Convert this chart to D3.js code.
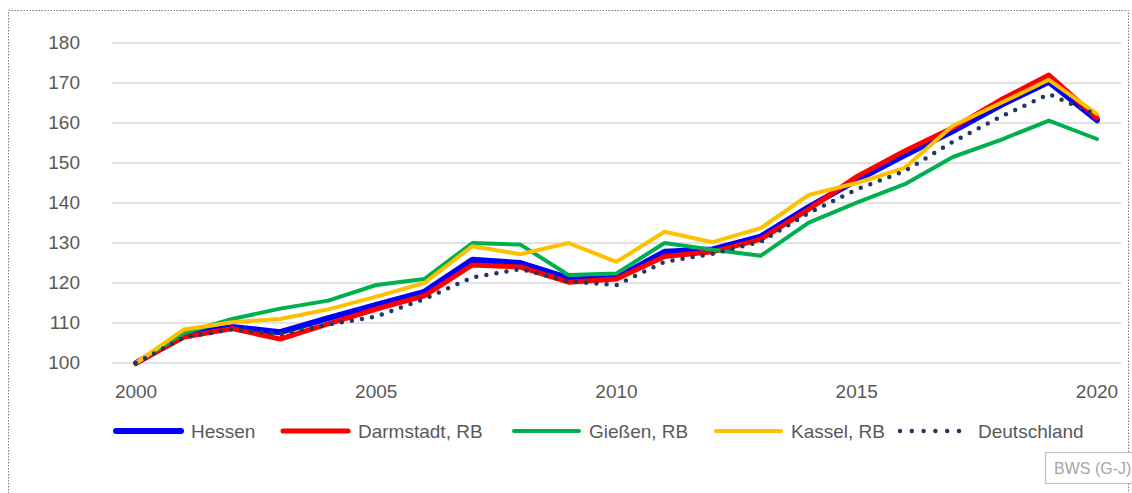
<!DOCTYPE html>
<html>
<head>
<meta charset="utf-8">
<script src="https://cdn.jsdelivr.net/npm/d3@7"></script>
<style>
  body { margin: 0; background: #fff; }
  svg { display: block; font-family: "Liberation Sans", Arial, sans-serif; }
</style>
</head>
<body>
<div id="chart"></div>
<script>
const years = d3.range(2000, 2021);
const yTicks = [100, 110, 120, 130, 140, 150, 160, 170, 180];
const xTickYears = [2000, 2005, 2010, 2015, 2020];

const hessen     = [100, 107, 109, 107.7, 111.2, 114.5, 117.8, 125.8, 125, 121.2, 121.3, 127.8, 128.4, 131.6, 139, 145.7, 152, 158, 164.5, 170.3, 160.7];
const darmstadt  = [100, 106.5, 108.6, 106, 109.8, 113.5, 116.8, 124.5, 124, 120.2, 121, 126.6, 127.8, 130.9, 138.4, 146.6, 153, 158.8, 165.8, 172, 161.3];
const giessen    = [100, 107.5, 111, 113.6, 115.6, 119.5, 121, 130, 129.6, 122, 122.4, 130, 128.3, 126.8, 135.1, 140.1, 144.7, 151.5, 155.8, 160.6, 156];
const kassel     = [100, 108.4, 110.2, 111, 113.4, 116.6, 120, 129.2, 127.2, 130, 125.3, 132.8, 130.2, 133.7, 142, 145, 148.8, 159.3, 165, 170.8, 162.3];
const deutschland= [100, 106.4, 108.4, 107.2, 109.6, 111.6, 116, 121.4, 123.5, 120.4, 119.5, 125.3, 127.3, 130.3, 137.5, 143.4, 148, 155.3, 161.6, 167.2, 162];

const seriesNames = ["Hessen", "Darmstadt, RB", "Gießen, RB", "Kassel, RB", "Deutschland"];
const seriesValues = [hessen, darmstadt, giessen, kassel, deutschland];
const seriesColors = ["#0000ff", "#ff0000", "#00b050", "#ffc000", "#1f3864"];
const seriesWidths = [6, 5, 4, 4, 4.5];

const W = 1132, H = 493;
const plotLeft = 112, plotRight = 1121, plotTop = 43, plotBottom = 363;

const svg = d3.select("#chart").append("svg").attr("width", W).attr("height", H);

// chart border (dotted)
svg.append("rect")
  .attr("x", 8.5).attr("y", 10.5).attr("width", 1120).attr("height", 500)
  .attr("fill", "none").attr("stroke", "#7f7f7f").attr("stroke-width", 1)
  .attr("stroke-dasharray", "1.5,1.5");

const x = d3.scaleBand().domain(years).range([plotLeft, plotRight]);
const y = d3.scaleLinear().domain([100, 180]).range([plotBottom, plotTop]);

// gridlines
svg.append("g").selectAll("line").data(yTicks).join("line")
  .attr("x1", plotLeft).attr("x2", plotRight)
  .attr("y1", d => y(d)).attr("y2", d => y(d))
  .attr("stroke", "#d9d9d9").attr("stroke-width", 1.5);

// y axis labels
const yAxis = d3.axisLeft(y).tickValues(yTicks).tickSize(0).tickPadding(0);
svg.append("g").attr("transform", `translate(80,-1)`).call(yAxis)
  .call(g => g.select(".domain").remove())
  .selectAll("text").attr("fill", "#595959").style("font-size", "19px").attr("dy", "0.35em");

// x axis labels
const xAxis = d3.axisBottom(x).tickValues(xTickYears).tickSize(0).tickPadding(0);
svg.append("g").attr("transform", `translate(0,${plotBottom + 21})`).call(xAxis)
  .call(g => g.select(".domain").remove())
  .selectAll("text").attr("fill", "#595959").style("font-size", "19px").attr("dy", "0.71em");

const line = d3.line()
  .x((d, i) => x(years[i]) + x.bandwidth() / 2)
  .y(d => y(d));

seriesValues.forEach((vals, k) => {
  const p = svg.append("path").datum(vals)
    .attr("d", line)
    .attr("fill", "none")
    .attr("stroke", seriesColors[k])
    .attr("stroke-width", seriesWidths[k])
    .attr("stroke-linejoin", "round")
    .attr("stroke-linecap", "round");
  if (k === 4) p.attr("stroke-dasharray", "0,10.2");
});

// legend
const legendX = [116, 283, 514, 716, 897];
const lg = svg.append("g");
seriesNames.forEach((name, k) => {
  const g = lg.append("g").attr("transform", `translate(${legendX[k]},431)`);
  const l = g.append("line").attr("x1", 0).attr("x2", 65).attr("y1", 0).attr("y2", 0)
    .attr("stroke", seriesColors[k]).attr("stroke-width", seriesWidths[k])
    .attr("stroke-linecap", "round");
  if (k === 4) l.attr("stroke-dasharray", "0,11.8").attr("x1", 3).attr("x2", 63);
  g.append("text").attr("x", k === 4 ? 81 : 75).attr("y", 0).attr("dy", "0.35em")
    .attr("fill", "#595959").style("font-size", "19px").text(name);
});

// source box
const sb = svg.append("g").attr("transform", "translate(1045,452)");
sb.append("rect").attr("x", 0.5).attr("y", 0.5).attr("width", 110).attr("height", 31)
  .attr("fill", "#fff").attr("stroke", "#bfbfbf").attr("stroke-width", 1.2);
sb.append("text").attr("x", 9).attr("y", 16).attr("dy", "0.35em")
  .attr("fill", "#a6a6a6").style("font-size", "16px").text("BWS (G-J)");
</script>
</body>
</html>
